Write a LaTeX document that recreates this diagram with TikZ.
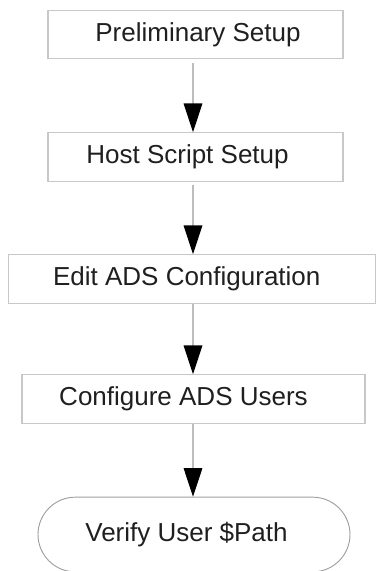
\documentclass[tikz,border=0pt]{standalone}
\usepackage{fontspec}
\setmainfont{Liberation Sans}
\usetikzlibrary{arrows.meta,shapes.misc}

\definecolor{boxline}{HTML}{C8C8C8}
\definecolor{flowline}{HTML}{BDBDBD}
\definecolor{endline}{HTML}{A0A0A0}

\tikzset{
  stepbox/.style={draw=boxline, line width=0.8pt, rectangle, minimum height=36.5pt,
    inner sep=0pt, text=black!88, font=\fontsize{19.5}{22}\selectfont},
  endbox/.style={draw=endline, line width=0.7pt, rounded rectangle, minimum height=56pt,
    minimum width=234pt, inner sep=0pt, text=black!88, font=\fontsize{19.5}{22}\selectfont},
  flow/.style={draw=flowline, line width=0.8pt,
    -{Triangle[length=21.5pt, width=14pt, color=black]}}
}

\begin{document}
\begin{tikzpicture}[x=0.75pt, y=-0.75pt]
\useasboundingbox (0,0) rectangle (376,571);

% Steps
\node[stepbox, minimum width=221.25pt] (prelim) at (195.5,34.5) {\kern3.75pt Preliminary Setup};
\node[stepbox, minimum width=221.25pt] (host) at (195.5,157) {Host Script Setup\kern12pt};
\node[stepbox, minimum width=275.5pt] (edit) at (191.75,279) {Edit ADS Configuration\kern7.5pt};
\node[stepbox, minimum width=257.25pt] (users) at (193.5,399) {Configure ADS Users\kern15pt};

% Last step
\node[endbox] (verify) at (194,534.5) {\raisebox{1.5pt}{Verify User \$Path}\kern11.25pt};

% Arrows
\draw[flow] (prelim.south -| 193,0) ++(0,4) -- (host.north -| 193,0);
\draw[flow] (host.south -| 193,0) ++(0,3) -- (edit.north -| 193,0);
\draw[flow] (edit.south -| 193,0) -- (users.north -| 193,0);
\draw[flow] (users.south -| 193,0) -- (verify.north -| 193,0);
\end{tikzpicture}
\end{document}
